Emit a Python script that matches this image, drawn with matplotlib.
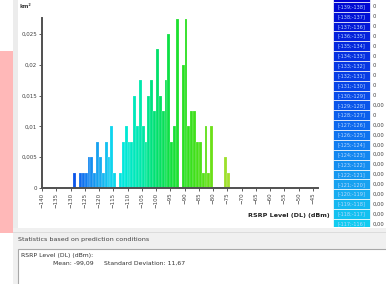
import math
import numpy as np
import matplotlib
matplotlib.use('Agg')
import matplotlib.pyplot as plt
from matplotlib.colors import LinearSegmentedColormap, Normalize
from matplotlib.patches import Rectangle
from matplotlib.ticker import FuncFormatter

# histogram bins (left edge, dBm) and area per bin (km²)
bin_left = list(range(-129, -74))
area = [0.0025, 0, 0.0025, 0.0025, 0.0025, 0.005, 0.005, 0.0025, 0.0075, 0.005,
        0.0025, 0.0075, 0.005, 0.01, 0.0025, 0, 0.0025, 0.0075, 0.01, 0.0075,
        0.0075, 0.015, 0.01, 0.0175, 0.01, 0.0075, 0.015, 0.0175, 0.0125, 0.0225,
        0.015, 0.0125, 0.0175, 0.025, 0.0075, 0.01, 0.0275, 0, 0.02, 0.0275,
        0.01, 0.0125, 0.0125, 0.0075, 0.0075, 0.0025, 0.01, 0.0025, 0.01, 0,
        0, 0, 0, 0.005, 0.0025]
xticks = list(range(-140, -44, 5))
yticks = [0, 0.005, 0.01, 0.015, 0.02, 0.025]
table_bins = list(range(-140, -116))
mean_txt = "-99,09"
std_txt = "11,67"

W, H = 386, 284
fig = plt.figure(figsize=(W / 100, H / 100), dpi=100)
fig.patch.set_facecolor('white')

anchors = [(-140, '#0000d0'), (-130, '#0848e8'), (-125, '#1078f0'), (-120, '#18a8f0'),
           (-116, '#10d0f0'), (-112, '#00e8e0'), (-105, '#00e8a8'), (-100, '#00e070'),
           (-95, '#10e040'), (-90, '#28e020'), (-85, '#48e018'), (-80, '#70e018'),
           (-74, '#a8e030')]
lo, hi = anchors[0][0], anchors[-1][0]
cmap = LinearSegmentedColormap.from_list(
    'rsrp', [((v - lo) / (hi - lo), c) for v, c in anchors])
norm = Normalize(lo, hi)

# background pieces of the screenshot
bg = fig.add_axes([0, 0, 1, 1], zorder=-1)
bg.set_xlim(0, W)
bg.set_ylim(H, 0)
bg.axis('off')
bg.add_patch(Rectangle((0, 51), 13, 182, color='#ffb8b8', lw=0))
bg.add_patch(Rectangle((13, 0), 5, H, color='#ececec', lw=0))
bg.add_patch(Rectangle((13, 228), W - 13, H - 228, color='#f0f0f0', lw=0))
bg.add_patch(Rectangle((13, 232), W - 13, 1, color='#dcdcdc', lw=0))
bg.add_patch(Rectangle((18, 249), W, 40, facecolor='white', edgecolor='#a8a8a8', lw=0.8))
bg.text(18, 240, "Statistics based on prediction conditions", fontsize=4.6,
        color='#404040', va='center')
bg.text(21, 256, "RSRP Level (DL) (dBm):", fontsize=4.4, color='#303030', va='center')
bg.text(53, 263, "Mean: " + mean_txt, fontsize=4.4, color='#303030', va='center')
bg.text(104, 263, "Standard Deviation: " + std_txt, fontsize=4.4, color='#303030', va='center')
bg.text(20, 7, "km²", fontsize=4, color='#404040', va='center', fontweight='bold')
bg.text(330, 216, "RSRP Level (DL) (dBm)", fontsize=4.6, color='#202020',
        va='center', ha='right', fontweight='bold')

# main histogram
ax = fig.add_axes([42 / W, 1 - 188 / H, (318 - 42) / W, (188 - 18) / H])
ax.patch.set_alpha(0)
centers = np.array(bin_left) + 0.5
ax.bar(centers, area, width=1.0, color=cmap(norm(centers)),
       edgecolor=(1, 1, 1, 0.45), linewidth=0.3)
ax.set_xlim(-140, -43.2)
ax.set_ylim(0, 0.0276)
ax.set_xticks(xticks)
ax.set_yticks(yticks)
ax.yaxis.set_major_formatter(FuncFormatter(
    lambda v, p: '0' if v == 0 else ('%g' % v).replace('.', ',')))
ax.tick_params(axis='x', labelsize=4, labelrotation=90, length=2, width=0.6,
               colors='#404040', pad=1.5)
ax.tick_params(axis='y', labelsize=4, length=2, width=0.6, colors='#404040', pad=1.5)
for s in ['top', 'right']:
    ax.spines[s].set_visible(False)
ax.spines['left'].set_color('#505050')
ax.spines['left'].set_linewidth(1.4)
ax.spines['bottom'].set_color('#505050')
ax.spines['bottom'].set_linewidth(1.4)

# colour legend table on the right
tb = fig.add_axes([333 / W, 1 - 227 / H, (W - 333) / W, 227 / H])
tb.set_xlim(333, W)
tb.set_ylim(227, 0)
tb.axis('off')
row_h = 9.87
for b in table_bins:
    yc = 6.7 + (b + 139) * row_h
    tb.add_patch(Rectangle((333, yc - row_h / 2), 37, row_h, facecolor=cmap(norm(b + 0.5)),
                           edgecolor='white', lw=0.5))
    if yc - 3 < 0:
        continue
    tb.text(351.5, yc, "[%d;%d]" % (b, b + 1), fontsize=3.6, color='#b8d8ff',
            ha='center', va='center')
    v = area[bin_left.index(b)] if b in bin_left else 0
    label = "0" if v == 0 else ("%.2f" % (math.floor(v * 100) / 100)).replace('.', ',')
    tb.text(373, yc, label, fontsize=3.8, color='#404040', va='center')

fig.savefig('out.png', dpi=100)
